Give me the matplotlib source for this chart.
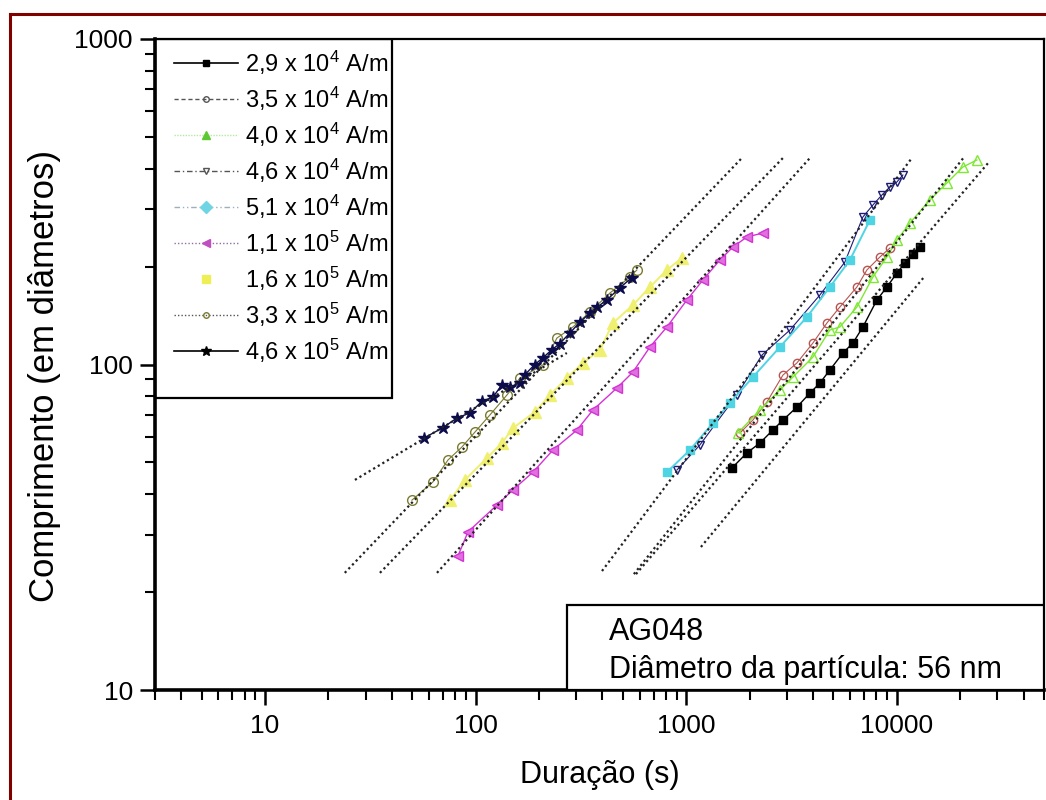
import matplotlib
matplotlib.use("Agg")
import matplotlib.pyplot as plt
from matplotlib.lines import Line2D
from matplotlib.patches import Rectangle
from matplotlib.ticker import FixedLocator, LogLocator, NullFormatter

plt.rcParams['font.family'] = ['Liberation Sans', 'DejaVu Sans']
plt.rcParams['mathtext.fontset'] = 'custom'
plt.rcParams['mathtext.rm'] = 'Liberation Sans'
plt.rcParams['mathtext.it'] = 'Liberation Sans:italic'
plt.rcParams['mathtext.bf'] = 'Liberation Sans:bold'

# ---------------- data ----------------
labels = ["2,9 x 10$^4$ A/m", "3,5 x 10$^4$ A/m", "4,0 x 10$^4$ A/m",
          "4,6 x 10$^4$ A/m", "5,1 x 10$^4$ A/m", "1,1 x 10$^5$ A/m",
          "1,6 x 10$^5$ A/m", "3,3 x 10$^5$ A/m", "4,6 x 10$^5$ A/m"]

# 2,9 x 10^4
s1_x = [1648, 1942, 2238, 2579, 2879, 3354, 3867, 4312, 4810, 5546, 6186, 6900, 8041, 8973, 10009, 10924, 11923, 12870]
s1_y = [48.1, 53.5, 57.4, 62.9, 67.5, 74.0, 81.7, 87.7, 96.2, 108.5, 116.4, 130.4, 157.8, 173, 191, 205, 219, 229.6]
# 3,5 x 10^4
s2_x = [1798, 2073, 2416, 2879, 3354, 3995, 4656, 5365, 6463, 7210, 8311, 9271]
s2_y = [61.6, 67.5, 76.7, 92.8, 101.1, 116.4, 134.1, 150.2, 173, 195.2, 213.9, 228]
# 4,0 x 10^4
s3_x = [1760, 2238, 2785, 3210, 3995, 4810, 5365, 6463, 7698, 8973, 10009, 11536, 14359, 17290, 20597, 24000]
s3_y = [61.6, 72.5, 83.5, 91.5, 105.4, 127.6, 130.4, 150.2, 185.7, 213.9, 241.3, 272.1, 320.2, 361.1, 404.4, 424.9]
# 4,6 x 10^4
s4_x = [903, 1161, 1740, 2288, 3107, 4312, 5669, 6900, 7698, 8495, 9271, 10009, 10688]
s4_y = [47.4, 56.6, 80.6, 106.9, 127.6, 163.5, 206.5, 283.9, 309, 331.7, 351, 363.7, 382.1]
# 5,1 x 10^4
s5_x = [809.5, 1041, 1339, 1612, 2073, 2785, 3741, 4810, 5988, 7451]
s5_y = [46.7, 54.6, 66.1, 76.2, 91.5, 113.2, 139.9, 173, 209.4, 277.9]
# 1,1 x 10^5
s6_x = [82.4, 91.9, 126.2, 150.3, 187.1, 232.8, 302.6, 360.6, 468.6, 558.3, 672.3, 809.5, 1007, 1200, 1445, 1666, 1942, 2313]
s6_y = [25.8, 30.6, 37.0, 41.2, 46.7, 54.6, 62.9, 72.5, 84.7, 94.8, 113.2, 130.4, 157.8, 181.8, 209.4, 229.6, 246.5, 253.5]
# 1,6 x 10^5
s7_x = [75.5, 88.9, 113.1, 133.3, 150.3, 191.2, 225.3, 271.3, 323.2, 389, 448.5, 558.3, 672.3, 809.5, 954]
s7_y = [38.3, 44.2, 51.6, 57.4, 63.8, 71.5, 80.6, 90.9, 101.1, 110.8, 134.1, 152.3, 173, 195.2, 212.4]
# 3,3 x 10^5
s8_x = [49.8, 62.7, 73.9, 86.1, 99.2, 116.9, 140.8, 162.3, 208.7, 243.2, 289.7, 348.9, 434, 540, 583]
s8_y = [38.3, 43.6, 50.9, 55.8, 62.0, 70.0, 80.6, 90.9, 99.7, 120.6, 130.4, 145, 165.8, 185.7, 195.2]
# 4,6 x 10^5
s9_x = [57, 70, 81.5, 94, 107, 121, 133, 145, 162, 171, 191, 209, 230, 251, 280, 313, 349, 377, 420, 484, 552]
s9_y = [59.5, 64, 68.5, 71, 77, 79.5, 86.5, 85, 88, 93, 100, 105, 111, 116, 125, 135, 144, 150, 158, 172, 185]

# fitted power-law lines (start / end points)
fit1_x = [1174, 13592];  fit1_y = [27.5, 187]
fit2_x = [564, 21050];   fit2_y = [22.7, 437]
fit3_x = [577, 27670];   fit3_y = [22.7, 422]
fit5_x = [398, 11793];   fit5_y = [23.2, 431]
fit6_x = [65.5, 3867];   fit6_y = [22.9, 431]
fit7_x = [35.1, 2879];   fit7_y = [22.9, 431]
fit8_x = [23.9, 1838];   fit8_y = [22.9, 431]
fit9_x = [26.7, 271];    fit9_y = [44.2, 108.5]

# ---------------- figure ----------------
W, H = 1046, 800
fig = plt.figure(figsize=(W / 100, H / 100), dpi=100)
fig.patch.set_facecolor('white')

L, R, T, B = 155, 1044, 39, 690
ax = fig.add_axes([L / W, 1 - B / H, (R - L) / W, (B - T) / H])
ax.set_xscale('log')
ax.set_yscale('log')
ax.set_xlim(3, 50000)
ax.set_ylim(10, 1000)

series = [
    (s1_x, s1_y, dict(color='black', marker='s', ms=6, mfc='black', mec='black', lw=1.0)),
    (s2_x, s2_y, dict(color='#b85450', marker='o', ms=6, mfc='none', mec='#b85450', lw=0.8)),
    (s3_x, s3_y, dict(color='#7ee832', marker='^', ms=7, mfc='none', mec='#7ee832', lw=1.0)),
    (s4_x, s4_y, dict(color='#1c1c78', marker='v', ms=6, mfc='none', mec='#1c1c78', lw=0.8)),
    (s5_x, s5_y, dict(color='#4fd4e4', marker='s', ms=6, mfc='#4fd4e4', mec='#4fd4e4', lw=1.4)),
    (s6_x, s6_y, dict(color='#d433d4', marker='<', ms=7, mfc='#e070e0', mec='#d433d4', lw=1.0)),
    (s7_x, s7_y, dict(color='#f0f070', marker='^', ms=9, mfc='#f0f070', mec='#f0f070', lw=1.4)),
    (s8_x, s8_y, dict(color='#7a7a30', marker='o', ms=7, mfc='none', mec='#7a7a30', lw=0.8)),
    (s9_x, s9_y, dict(color='#0c0c4c', marker='*', ms=9, mfc='#0c0c4c', mec='#0c0c4c', lw=1.0)),
]
for xs, ys, kw in series:
    ax.plot(xs, ys, zorder=3, **kw)

for fx, fy in [(fit1_x, fit1_y), (fit2_x, fit2_y), (fit3_x, fit3_y), (fit5_x, fit5_y),
               (fit6_x, fit6_y), (fit7_x, fit7_y), (fit8_x, fit8_y), (fit9_x, fit9_y)]:
    ax.plot(fx, fy, color='#222222', lw=1.6, ls=(0, (1, 1.4)), zorder=4)

# axes styling
for side in ['left', 'bottom']:
    ax.spines[side].set_linewidth(2.6)
for side in ['top', 'right']:
    ax.spines[side].set_linewidth(1.6)

ax.xaxis.set_major_locator(FixedLocator([10, 100, 1000, 10000]))
ax.set_xticklabels(['10', '100', '1000', '10000'])
ax.xaxis.set_minor_locator(LogLocator(base=10, subs=[2, 3, 4, 5, 6, 7, 8, 9], numticks=20))
ax.xaxis.set_minor_formatter(NullFormatter())
ax.yaxis.set_major_locator(FixedLocator([10, 100, 1000]))
ax.set_yticklabels(['10', '100', '1000'])
ax.yaxis.set_minor_locator(LogLocator(base=10, subs=[2, 3, 4, 5, 6, 7, 8, 9], numticks=20))
ax.yaxis.set_minor_formatter(NullFormatter())
ax.tick_params(which='major', direction='out', length=11, width=1.8, labelsize=19, pad=5,
               top=False, right=False)
ax.tick_params(which='minor', direction='out', length=7, width=1.5, top=False, right=False)
ax.tick_params(axis='x', which='major', pad=6)

ax.set_xlabel('Duração (s)', fontsize=22)
ax.set_ylabel('Comprimento (em diâmetros)', fontsize=25)
ax.xaxis.set_label_coords(0.5, -(775 - B) / (B - T), transform=ax.transAxes)
ax.yaxis.set_label_coords(-(L - 45) / (R - L), (B - 376) / (B - T), transform=ax.transAxes)
ax.xaxis.label.set_va('center')
ax.yaxis.label.set_va('center')

# legend
hcol = '#555555'
handles = [
    Line2D([], [], color='black', lw=1.2, ls='-', marker='s', ms=5, mfc='black', mec='black'),
    Line2D([], [], color=hcol, lw=1.0, ls=(0, (3, 2)), marker='o', ms=4, mfc='none', mec=hcol),
    Line2D([], [], color='#b8e8a0', lw=1.0, ls=(0, (1, 1)), marker='^', ms=6, mfc='#5ec832', mec='#5ec832'),
    Line2D([], [], color=hcol, lw=1.0, ls=(0, (4, 2, 1, 2)), marker='v', ms=5, mfc='none', mec=hcol),
    Line2D([], [], color='#a0b0b8', lw=1.0, ls=(0, (4, 2, 1, 2, 1, 2)), marker='D', ms=6, mfc='#6fd4e4', mec='#6fd4e4'),
    Line2D([], [], color='#9070a0', lw=1.0, ls=(0, (1, 1.5)), marker='<', ms=6, mfc='#c050c0', mec='#c050c0'),
    Line2D([], [], color='none', lw=0, marker='s', ms=6, mfc='#eeee55', mec='#eeee55'),
    Line2D([], [], color=hcol, lw=1.0, ls=(0, (1, 1.5)), marker='o', ms=4, mfc='none', mec='#7a7a30'),
    Line2D([], [], color='black', lw=1.2, ls='-', marker='*', ms=7, mfc='black', mec='black'),
]
leg = ax.legend(handles, labels, loc='upper left', bbox_to_anchor=(0.011, 1.0),
                frameon=False, fontsize=17, handlelength=2.7, handletextpad=0.3,
                labelspacing=0.33, borderaxespad=0, borderpad=0.4)
ax.add_patch(Rectangle((0, (B - 398) / (B - T)), (392 - L) / (R - L), 1 - (B - 398) / (B - T),
                       transform=ax.transAxes, fill=False, ec='black', lw=1.6, zorder=5))

# annotation box
bx = (567 - L) / (R - L)
bh = (B - 605) / (B - T)
ax.add_patch(Rectangle((bx, 0), 1 - bx, bh, transform=ax.transAxes,
                       facecolor='white', ec='black', lw=1.6, zorder=5))
ax.text((609 - L) / (R - L), (B - 640) / (B - T), 'AG048', transform=ax.transAxes,
        fontsize=22, va='baseline', ha='left', zorder=6)
ax.text((609 - L) / (R - L), (B - 678) / (B - T), 'Diâmetro da partícula: 56 nm',
        transform=ax.transAxes, fontsize=22, va='baseline', ha='left', zorder=6)

# dark red page border (left and top)
fig.add_artist(Line2D([10 / W, 10 / W], [0, 1 - 14 / H], color='#800000', lw=2.2))
fig.add_artist(Line2D([10 / W, 1], [1 - 14 / H, 1 - 14 / H], color='#800000', lw=2.2))

fig.savefig('out.png', dpi=100)
